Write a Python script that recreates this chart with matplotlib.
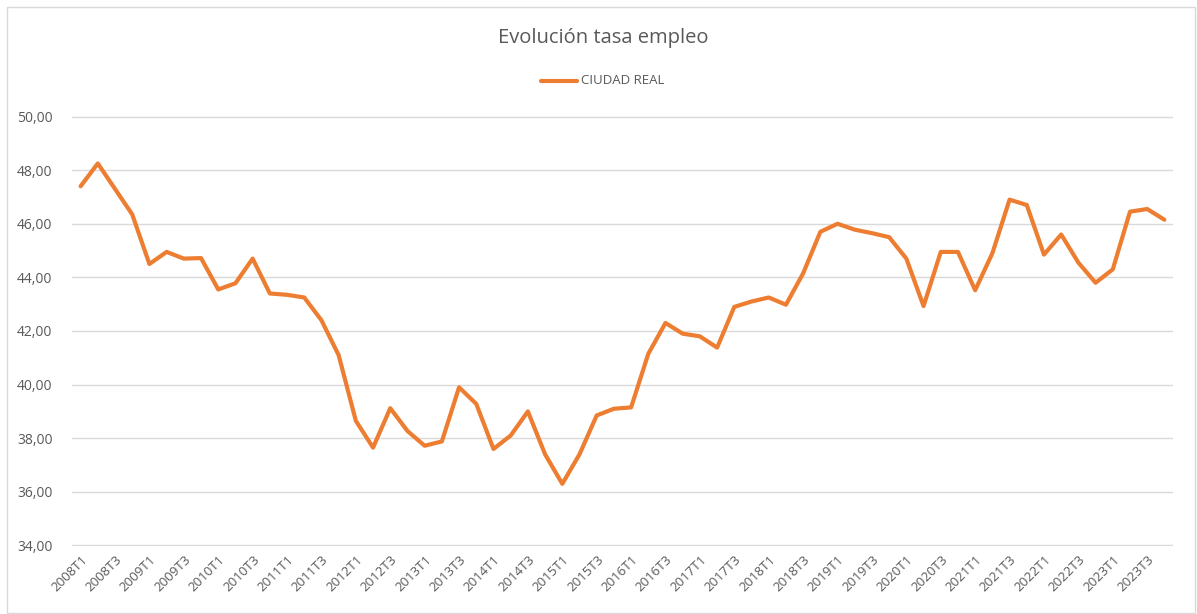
import matplotlib
matplotlib.use("Agg")
import matplotlib.pyplot as plt
from matplotlib.patches import Rectangle
from matplotlib.lines import Line2D

plt.rcParams['font.family'] = ['Open Sans', 'DejaVu Sans']

years = list(range(2008, 2024))
quarters = ["T1", "T2", "T3", "T4"]
periods = [f"{y}{q}" for y in years for q in quarters]

ciudad_real = [
    47.40, 48.25, 47.30, 46.35, 44.50, 44.95, 44.70, 44.72,
    43.55, 43.78, 44.70, 43.40, 43.35, 43.25, 42.40, 41.10,
    38.65, 37.65, 39.12, 38.27, 37.72, 37.88, 39.90, 39.28,
    37.60, 38.10, 39.00, 37.40, 36.30, 37.40, 38.85, 39.10,
    39.15, 41.15, 42.30, 41.90, 41.80, 41.38, 42.90, 43.10,
    43.25, 42.98, 44.15, 45.70, 46.00, 45.78, 45.65, 45.50,
    44.70, 42.93, 44.95, 44.95, 43.52, 44.90, 46.90, 46.70,
    44.85, 45.60, 44.55, 43.80, 44.30, 46.45, 46.55, 46.15,
]

series_name = "CIUDAD REAL"
title = "Evolución tasa empleo"
y_ticks = [34, 36, 38, 40, 42, 44, 46, 48, 50]

W, H = 1197, 614
fig = plt.figure(figsize=(W / 100, H / 100), dpi=100)
fig.patch.set_facecolor("white")

# outer chart frame
fig.add_artist(Rectangle((7 / W, 1 / H), (1195 - 7) / W, (607 - 1) / H,
                         transform=fig.transFigure, fill=False,
                         edgecolor="#d9d9d9", linewidth=1.0))

ax = fig.add_axes([72 / W, 1 - 546 / H, (1173 - 72) / W, (546 - 116) / H])
x = list(range(len(periods)))
color = "#ED7D31"
ax.plot(x, ciudad_real, color=color, linewidth=3.0, solid_joinstyle="round",
        solid_capstyle="round", zorder=3)

ax.set_xlim(-0.5, len(periods) - 0.5)
ax.set_ylim(33.98, 50.02)
ax.set_yticks(y_ticks)
ax.set_yticklabels([f"{v:.2f}".replace(".", ",") for v in y_ticks],
                   fontsize=10, color="#595959")
ax.set_xticks(x[::2])
ax.set_xticklabels(periods[::2], rotation=45, ha="right", va="top",
                   rotation_mode="anchor", fontsize=9.5, color="#595959")
ax.tick_params(axis="both", length=0)
ax.tick_params(axis="y", pad=14)
ax.tick_params(axis="x", pad=5)
ax.grid(axis="y", color="#d9d9d9", linewidth=1.0)
ax.set_axisbelow(True)
for s in ax.spines.values():
    s.set_visible(False)

fig.text(603 / W, 1 - 38 / H, title, ha="center", va="center",
         fontsize=14.5, color="#595959")

# legend
fig.add_artist(Line2D([541 / W, 577 / W], [1 - 81 / H, 1 - 81 / H],
                      transform=fig.transFigure, color=color, linewidth=3.0,
                      solid_capstyle="round"))
fig.text(581 / W, 1 - 81 / H, series_name, ha="left", va="center",
         fontsize=9.5, color="#595959")

fig.savefig("out.png", dpi=100, facecolor="white")
